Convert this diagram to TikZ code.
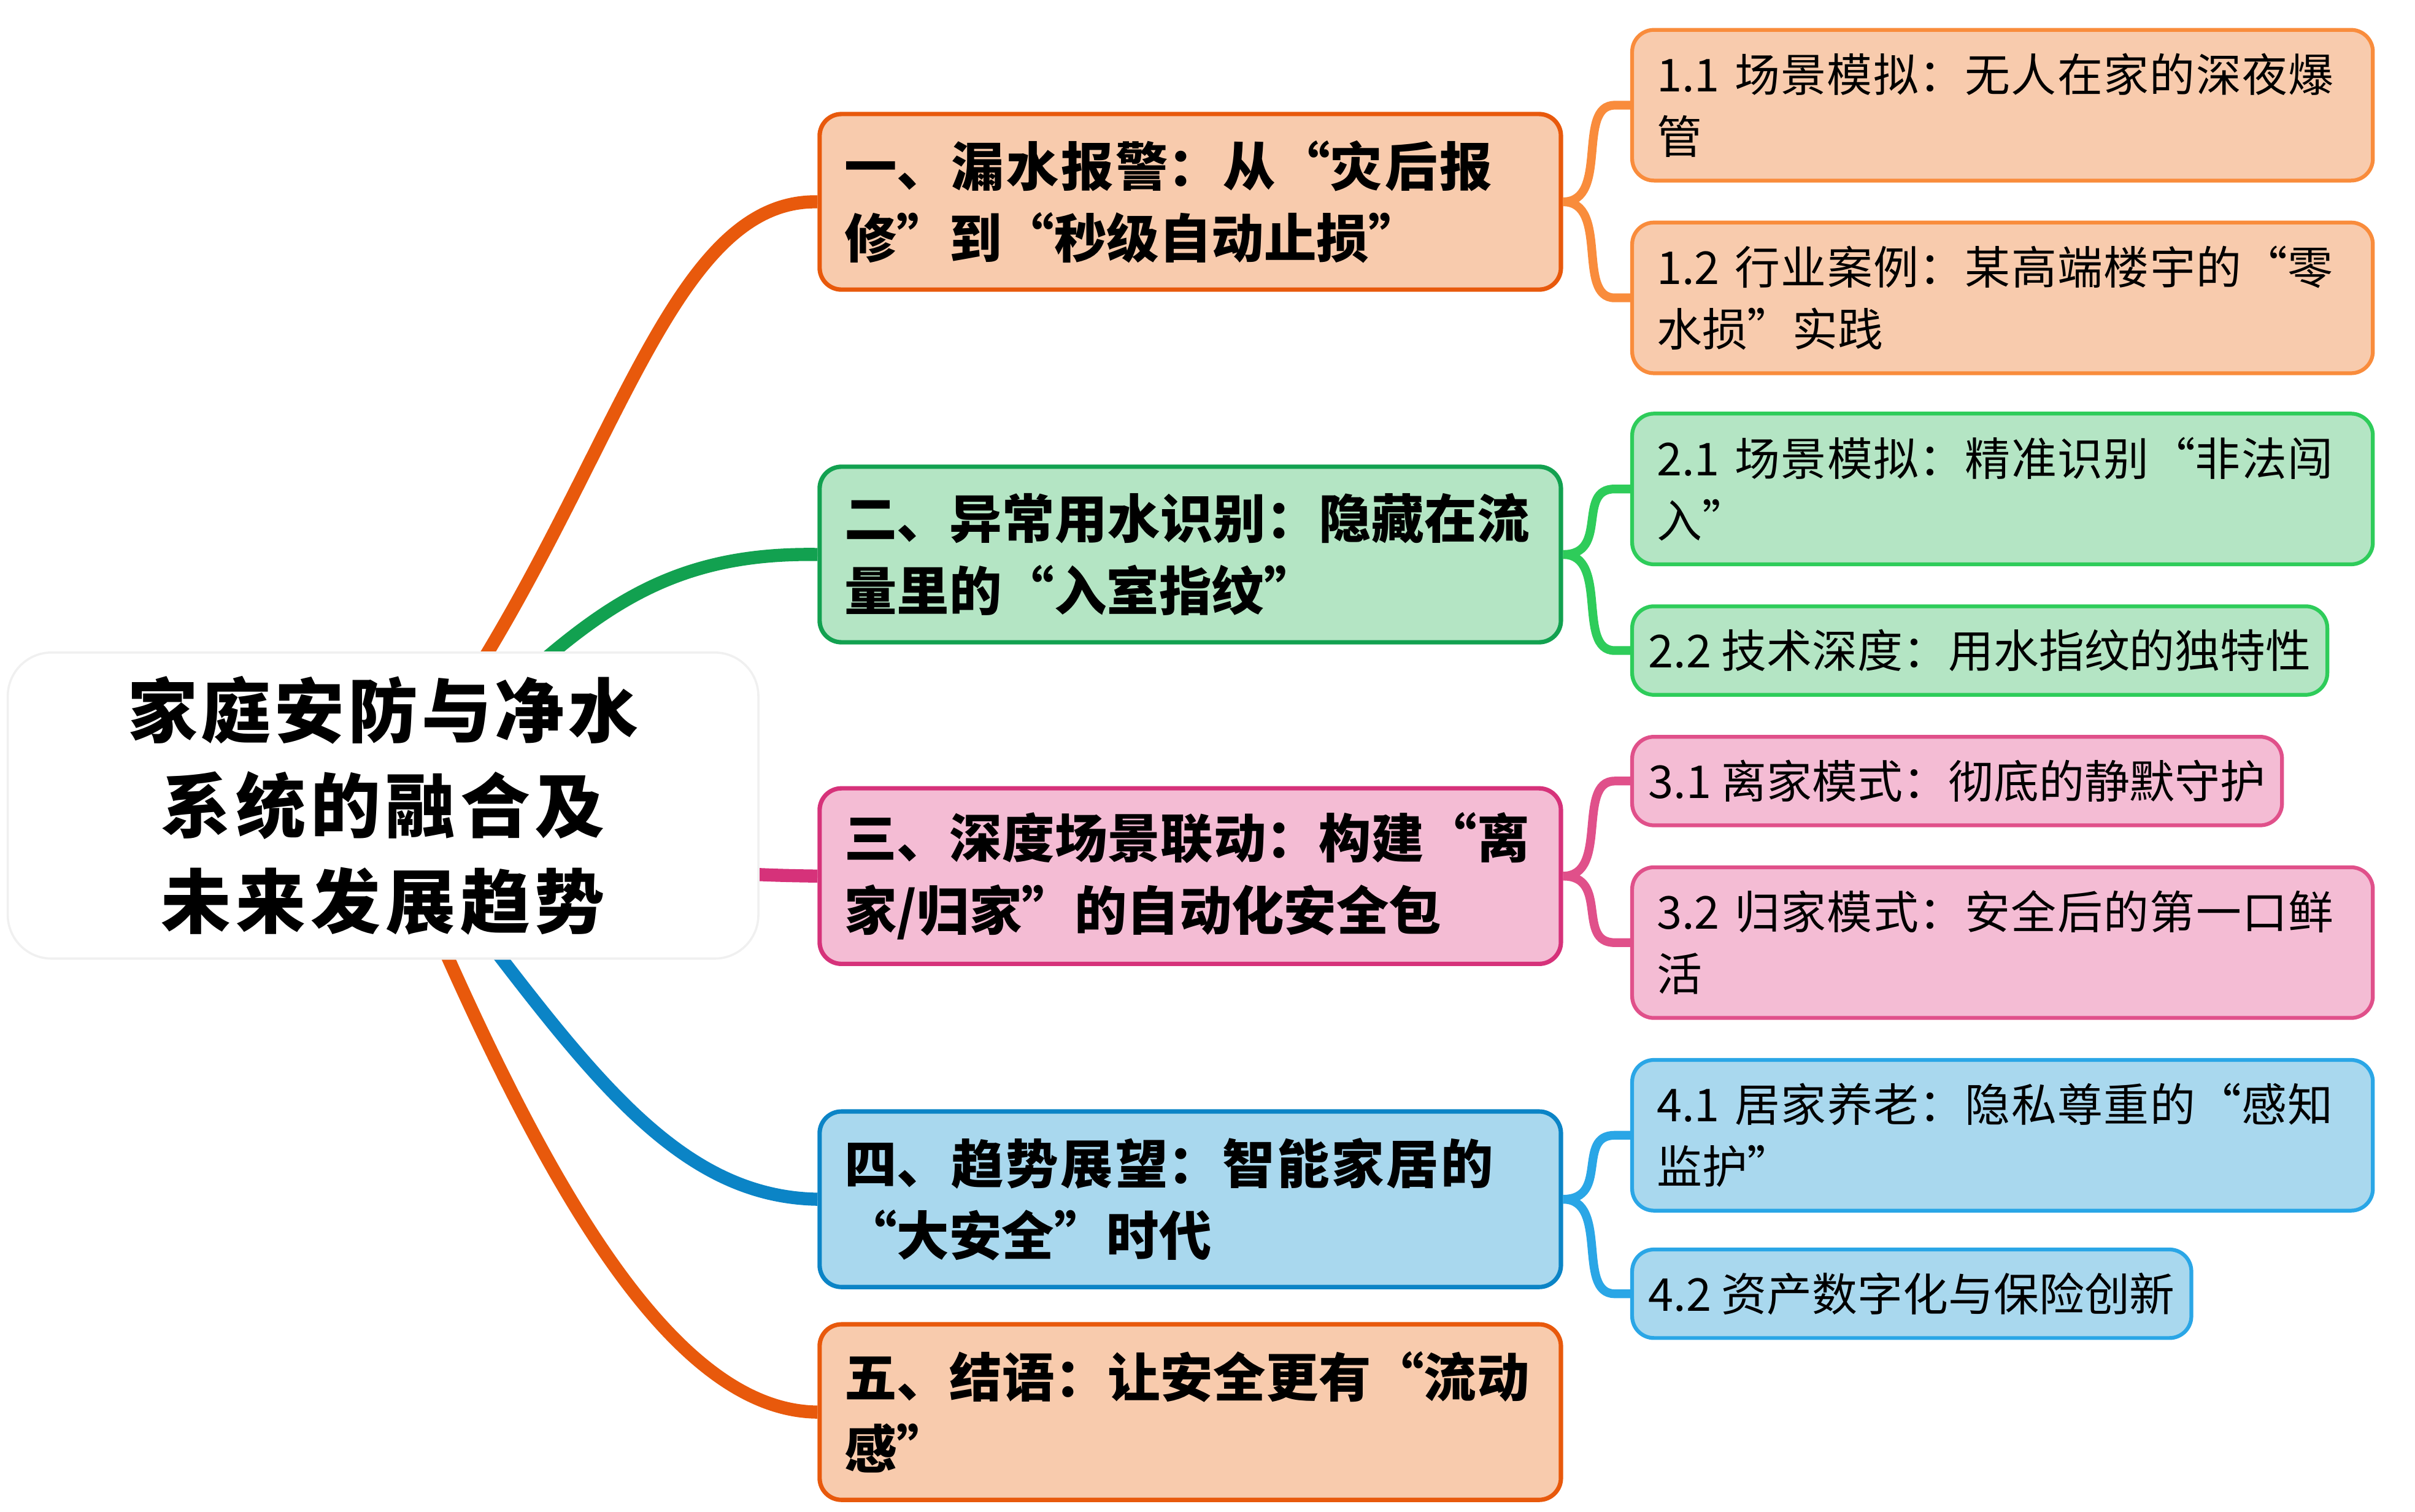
\documentclass[tikz,border=0pt]{standalone}
\usepackage{fontspec}
\setmainfont{Noto Sans CJK SC}
\XeTeXlinebreaklocale "zh"
\XeTeXlinebreakskip=0pt plus 1pt
\usetikzlibrary{positioning}
\definecolor{orgline}{HTML}{E8590C}
\definecolor{orgfill}{HTML}{F8CBAD}
\definecolor{orgthin}{HTML}{F98C3C}
\definecolor{grnline}{HTML}{12A150}
\definecolor{grnfill}{HTML}{B4E5C4}
\definecolor{grnthin}{HTML}{2ECC5A}
\definecolor{pnkline}{HTML}{D6327A}
\definecolor{pnkfill}{HTML}{F4BCD4}
\definecolor{pnkthin}{HTML}{E0508A}
\definecolor{bluline}{HTML}{0B84C6}
\definecolor{blufill}{HTML}{A9D8EE}
\definecolor{bluthin}{HTML}{2AA6E6}
\tikzset{
  mainbox/.style={draw, rounded corners=4pt, line width=0.8pt, anchor=north west,
    minimum width=4.77cm, minimum height=1.13cm, text width=4.45cm, align=left,
    font=\bfseries\fontsize{9.6}{13.2}\selectfont, inner xsep=4.5pt},
  subbox/.style={draw, rounded corners=4pt, line width=0.7pt, anchor=north west,
    minimum height=0.97cm, text width=4.45cm, align=left,
    font=\fontsize{8.3}{11.3}\selectfont, inner xsep=4.5pt},
  shortbox/.style={draw, rounded corners=4pt, line width=0.7pt, anchor=north west,
    minimum height=0.57cm, font=\fontsize{8.3}{11.3}\selectfont, inner xsep=3pt},
  thick branch/.style={line width=2.4pt},
  thin branch/.style={line width=1.6pt}
}
\begin{document}
\begin{tikzpicture}
    \useasboundingbox (0,0) rectangle (15.54,-9.73);

    % first level
    \node[mainbox, draw=orgline, fill=orgfill] (b1) at (5.26,-0.72) {一、漏水报警：从“灾后报修”到“秒级自动止损”};
    \node[mainbox, draw=grnline, fill=grnfill] (b2) at (5.26,-2.99) {二、异常用水识别：隐藏在流量里的“入室指纹”};
    \node[mainbox, draw=pnkline, fill=pnkfill] (b3) at (5.26,-5.06) {三、深度场景联动：构建“离家/归家”的自动化安全包};
    \node[mainbox, draw=bluline, fill=blufill] (b4) at (5.26,-7.14) {四、趋势展望：智能家居的“大安全”时代};
    \node[mainbox, draw=orgline, fill=orgfill] (b5) at (5.26,-8.51) {五、结语：让安全更有“流动感”};

    % second level
    \node[subbox, draw=orgthin, fill=orgfill] (c11) at (10.49,-0.18) {1.1 场景模拟：无人在家的深夜爆管};
    \node[subbox, draw=orgthin, fill=orgfill] (c12) at (10.49,-1.42) {1.2 行业案例：某高端楼宇的“零水损”实践};
    \node[subbox, draw=grnthin, fill=grnfill] (c21) at (10.49,-2.65) {2.1 场景模拟：精准识别“非法闯入”};
    \node[shortbox, draw=grnthin, fill=grnfill] (c22) at (10.49,-3.89) {2.2 技术深度：用水指纹的独特性};
    \node[shortbox, draw=pnkthin, fill=pnkfill] (c31) at (10.49,-4.73) {3.1 离家模式：彻底的静默守护};
    \node[subbox, draw=pnkthin, fill=pnkfill] (c32) at (10.49,-5.57) {3.2 归家模式：安全后的第一口鲜活};
    \node[subbox, draw=bluthin, fill=blufill] (c41) at (10.49,-6.81) {4.1 居家养老：隐私尊重的“感知监护”};
    \node[shortbox, draw=bluthin, fill=blufill] (c42) at (10.49,-8.03) {4.2 资产数字化与保险创新};

    % branches from the root
    \coordinate (rootc) at (2.46,-5.18);
    \draw[thick branch, orgline] (rootc) .. controls (3.9,-3.4) and (4.2,-1.28) .. (b1.west);
    \draw[thick branch, grnline] (rootc) .. controls (3.6,-4.2) and (4.0,-3.55) .. (b2.west);
    \draw[thick branch, pnkline] (rootc) .. controls (4.0,-5.6) and (4.6,-5.63) .. (b3.west);
    \draw[thick branch, bluline] (rootc) .. controls (3.6,-6.6) and (4.2,-7.7) .. (b4.west);
    \draw[thick branch, orgline] (rootc) .. controls (3.3,-7.2) and (4.2,-9.08) .. (b5.west);

    % branches to the second level
    \foreach \a/\b/\c in {b1/c11/orgthin, b1/c12/orgthin, b2/c21/grnthin, b2/c22/grnthin,
                          b3/c31/pnkthin, b3/c32/pnkthin, b4/c41/bluthin, b4/c42/bluthin} {
        \draw[thin branch, \c] (\a.east) .. controls +(0.3,0) and +(-0.25,0) .. ([xshift=-0.1cm]\b.west) -- (\b.west);
    }

    % root
    \node[fill=white, draw=black!6, rounded corners=8pt, minimum width=4.83cm, minimum height=1.97cm,
          text width=4.45cm, align=center, font=\bfseries\fontsize{12.8}{17.5}\selectfont]
          (root) at (2.465,-5.185) {家庭安防与净水系统的融合及未来发展趋势};
\end{tikzpicture}
\end{document}
